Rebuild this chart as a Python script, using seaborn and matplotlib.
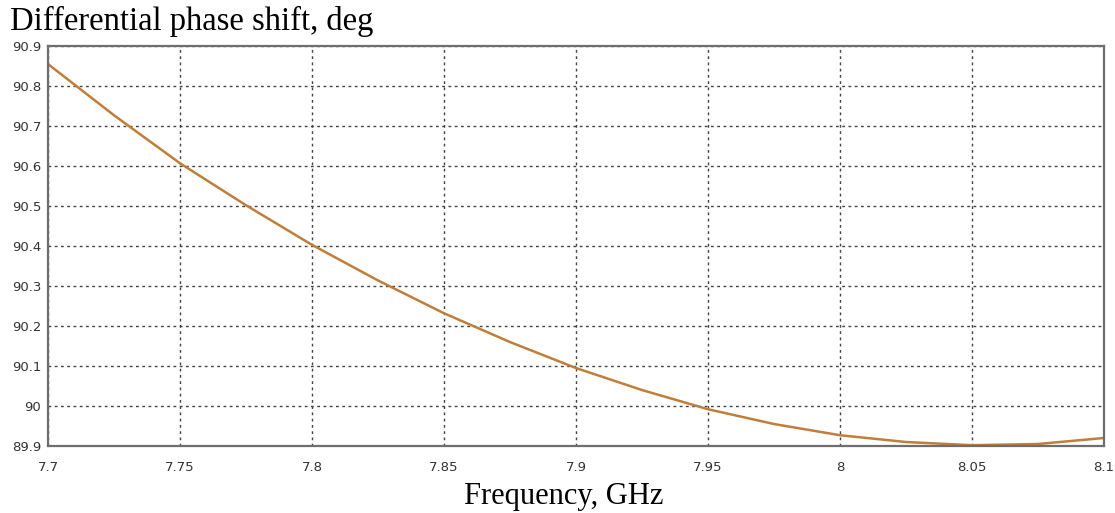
import numpy as np
import pandas as pd
import matplotlib
matplotlib.use("Agg")
import matplotlib.pyplot as plt
from matplotlib.ticker import FuncFormatter
import seaborn as sns

# Frequency sweep (GHz) and differential phase shift (deg)
freq_ghz = [7.7, 7.725, 7.75, 7.775, 7.8, 7.825, 7.85, 7.875, 7.9,
            7.925, 7.95, 7.975, 8.0, 8.025, 8.05, 8.075, 8.1]
phase_deg = [90.855, 90.727, 90.607, 90.502, 90.403, 90.314, 90.232, 90.160, 90.095,
             90.040, 89.992, 89.955, 89.927, 89.910, 89.902, 89.905, 89.920]

x_ticks = [7.7, 7.75, 7.8, 7.85, 7.9, 7.95, 8.0, 8.05, 8.1]
y_ticks = [89.9, 90.0, 90.1, 90.2, 90.3, 90.4, 90.5, 90.6, 90.7, 90.8, 90.9]

df = pd.DataFrame({'freq': freq_ghz, 'phase': phase_deg})

sns.set_theme(style="white")
plt.rcParams['font.family'] = ['DejaVu Sans']

fig = plt.figure(figsize=(11.15, 5.13), dpi=100)
ax = fig.add_axes([0.043, 0.1306, 0.947, 0.7797])

sns.lineplot(data=df, x='freq', y='phase', ax=ax, color='#C07E3A', linewidth=1.8)

ax.set_xlim(7.7, 8.1)
ax.set_ylim(89.9, 90.9)
ax.set_xticks(x_ticks)
ax.set_yticks(y_ticks)
fmt = FuncFormatter(lambda v, p: f"{v:g}")
ax.xaxis.set_major_formatter(fmt)
ax.yaxis.set_major_formatter(fmt)

ax.grid(True, color='#444444', linestyle=(0, (2, 2.5)), linewidth=1.0)
for s in ax.spines.values():
    s.set_color('#6e6e6e')
    s.set_linewidth(1.6)

ax.tick_params(axis='both', direction='inout', length=6, width=1.2, color='#555555',
               labelsize=9.5, labelcolor='#333333', pad=2)
ax.tick_params(axis='x', pad=8)

ax.set_xlabel('')
ax.set_ylabel('')
fig.text(0.009, 0.958, 'Differential phase shift, deg', family='Liberation Serif',
         fontsize=23.5, color='black', ha='left', va='center')
fig.text(0.506, 0.033, 'Frequency, GHz', family='Liberation Serif',
         fontsize=22, color='black', ha='center', va='center')

fig.savefig('out.png', dpi=100)
